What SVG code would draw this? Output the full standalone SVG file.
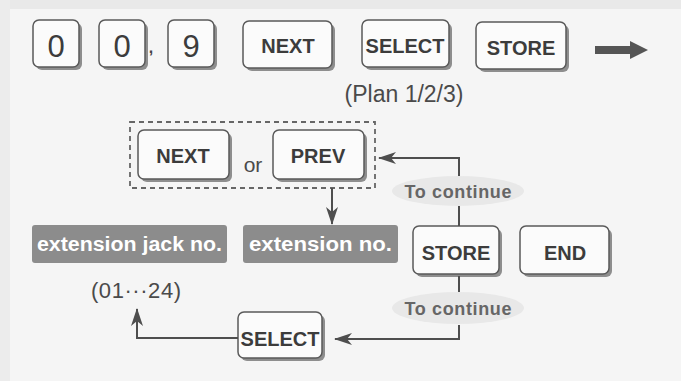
<svg xmlns="http://www.w3.org/2000/svg" width="681" height="381" viewBox="0 0 681 381">
<style>
.sh{fill:#8e8e8e}
.key{fill:#fbfbfb;stroke:#5a5a5a;stroke-width:1.5}
.kt{font-family:"Liberation Sans",Arial,sans-serif;font-weight:bold;font-size:20px;fill:#3c3c3c;text-anchor:middle}
.dg{font-family:"Liberation Sans",Arial,sans-serif;font-size:31px;fill:#3c3c3c;text-anchor:middle}
.dark{fill:#8c8c8c}
.wt{font-family:"Liberation Sans",Arial,sans-serif;font-weight:bold;font-size:20px;fill:#ffffff}
.nt{font-family:"Liberation Sans",Arial,sans-serif;font-size:21px;fill:#4a4a4a;text-anchor:middle}
.lbl{fill:#e8e8e8}
.lt{font-family:"Liberation Sans",Arial,sans-serif;font-weight:bold;font-size:18px;fill:#666666;text-anchor:middle}
.ln{fill:none;stroke:#4e4e4e;stroke-width:2}
</style>
<defs>
<marker id="ah" viewBox="0 0 18 12" refX="17" refY="6" markerWidth="18" markerHeight="12" markerUnits="userSpaceOnUse" orient="auto">
<path d="M0,0 L18,6 L0,12 L5,6 Z" fill="#4e4e4e"/>
</marker>
</defs>
<rect x="0" y="0" width="681" height="381" fill="#f5f5f5"/>
<rect x="0" y="0" width="681" height="9" fill="#e9e9e9"/>
<rect x="0" y="0" width="10" height="381" fill="#ececec"/>

<g id="key-0a"><rect class="sh" x="36" y="23" width="46" height="47" rx="6"/><rect class="key" x="33" y="20" width="46" height="47" rx="6"/><text class="dg" x="56" y="57">0</text></g>
<g id="key-0b"><rect class="sh" x="102" y="23" width="46" height="47" rx="6"/><rect class="key" x="99" y="20" width="46" height="47" rx="6"/><text class="dg" x="122" y="57">0</text></g>
<text x="151" y="53" font-family="Liberation Sans, Arial, sans-serif" font-weight="bold" font-size="16" fill="#444" text-anchor="middle">,</text>
<g id="key-9"><rect class="sh" x="171" y="23" width="46" height="47" rx="6"/><rect class="key" x="168" y="20" width="46" height="47" rx="6"/><text class="dg" x="191" y="57">9</text></g>
<g id="key-next"><rect class="sh" x="246" y="24" width="89" height="47" rx="6"/><rect class="key" x="243" y="21" width="89" height="47" rx="6"/><text class="kt" x="288" y="53">NEXT</text></g>
<g id="key-select"><rect class="sh" x="365" y="23" width="87" height="47" rx="6"/><rect class="key" x="362" y="20" width="87" height="47" rx="6"/><text class="kt" x="405" y="53" font-size="19.5">SELECT</text></g>
<text id="plan" x="404" y="102" font-family="Liberation Sans, Arial, sans-serif" font-size="23" fill="#4a4a4a" text-anchor="middle">(Plan 1/2/3)</text>
<g id="key-store"><rect class="sh" x="479" y="25" width="90" height="47" rx="6"/><rect class="key" x="476" y="22" width="90" height="47" rx="6"/><text class="kt" x="521" y="55">STORE</text></g>
<g id="next-arrow"><path d="M595,46 L630,46 L630,41 L648,50 L630,59 L630,54 L595,54 Z" fill="#555"/></g>

<g id="choice">
<rect x="130" y="122" width="245" height="66" fill="none" stroke="#666" stroke-width="1.8" stroke-dasharray="5,4"/>
<g id="key-next2"><rect class="sh" x="141" y="133" width="91" height="49" rx="6"/><rect class="key" x="138" y="130" width="91" height="49" rx="6"/><text class="kt" x="183" y="163" font-size="21">NEXT</text></g>
<text class="nt" x="253" y="172">or</text>
<g id="key-prev"><rect class="sh" x="276" y="133" width="91" height="49" rx="6"/><rect class="key" x="273" y="130" width="91" height="49" rx="6"/><text class="kt" x="318" y="163" font-size="21">PREV</text></g>
</g>

<g id="ext-jack"><rect class="dark" x="32" y="225" width="195" height="38" rx="3"/><text class="wt" x="37" y="251" textLength="185" lengthAdjust="spacingAndGlyphs">extension jack no.</text></g>
<text id="range" x="136" y="298" font-family="Liberation Sans, Arial, sans-serif" font-size="22" fill="#4a4a4a" text-anchor="middle" textLength="90">(01···24)</text>
<g id="ext-no"><rect class="dark" x="243" y="225" width="155" height="38" rx="3"/><text class="wt" x="249" y="251" textLength="143" lengthAdjust="spacingAndGlyphs">extension no.</text></g>
<g id="key-store2"><rect class="sh" x="416" y="229" width="86" height="48" rx="6"/><rect class="key" x="413" y="226" width="86" height="48" rx="6"/><text class="kt" x="456" y="260">STORE</text></g>
<g id="key-end"><rect class="sh" x="523" y="229" width="89" height="48" rx="6"/><rect class="key" x="520" y="226" width="89" height="48" rx="6"/><text class="kt" x="565" y="260">END</text></g>
<g id="key-select2"><rect class="sh" x="241" y="315" width="84" height="46" rx="6"/><rect class="key" x="238" y="312" width="84" height="46" rx="6"/><text class="kt" x="280" y="346" font-size="19.5">SELECT</text></g>

<g id="label-top"><ellipse class="lbl" cx="458" cy="191" rx="66" ry="15"/><text class="lt" x="458" y="198" textLength="107">To continue</text></g>
<g id="label-bottom"><ellipse class="lbl" cx="458" cy="308" rx="66" ry="16"/><text class="lt" x="458" y="315" textLength="107">To continue</text></g>

<g id="connectors">
<path class="ln" d="M332,188 L332,224" marker-end="url(#ah)"/>
<path class="ln" d="M459,176 L459,158 L379,158" marker-end="url(#ah)"/>
<path class="ln" d="M459,206 L459,226"/>
<path class="ln" d="M459,276 L459,292"/>
<path class="ln" d="M459,325 L459,339 L335,339" marker-end="url(#ah)"/>
<path class="ln" d="M238,338 L137,338 L137,309" marker-end="url(#ah)"/>
</g>
</svg>
